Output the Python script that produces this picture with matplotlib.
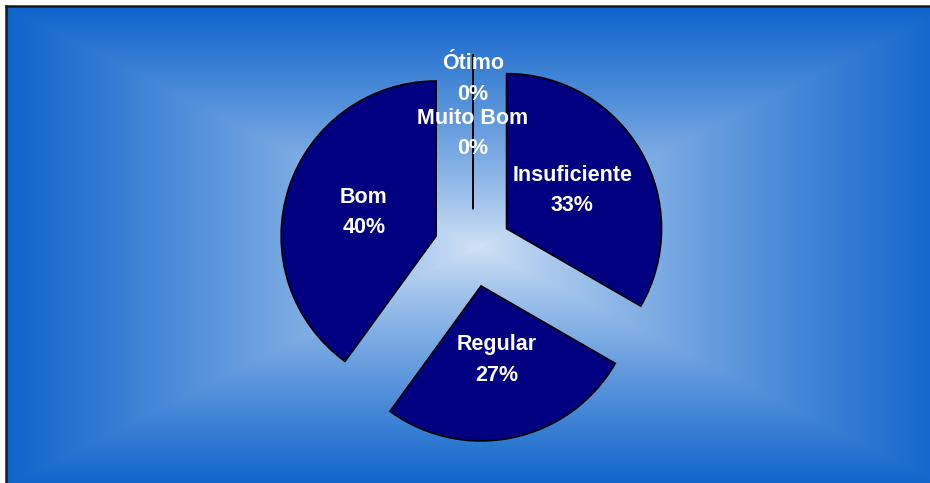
import numpy as np
import matplotlib
matplotlib.use('Agg')
import matplotlib.pyplot as plt

# Survey answers (counts out of 15) in the order the pie draws them
CATEGORIES = ['Insuficiente', 'Regular', 'Bom', 'Muito Bom', 'Ótimo']
COUNTS = [5, 4, 6, 0, 0]

W, H = 930, 483
CX, CY = 473, 248      # pie centre in pixels (from top-left)
R_PX = 155             # pie radius in pixels

fig = plt.figure(figsize=(W / 100, H / 100), dpi=100)
fig.patch.set_facecolor('white')

# Background: rectangular gradient, light centre and blue edges
bg = fig.add_axes([6 / W, -0.01, 1.02 - 6 / W, 1.01 - 6 / H])
bg.set_axis_off()
ny, nx = 240, 470
yy, xx = np.mgrid[0:ny, 0:nx]
t = np.maximum(np.abs(xx - (nx - 1) / 2) / ((nx - 1) / 2),
               np.abs(yy - (ny - 1) / 2) / ((ny - 1) / 2))
t = t ** 0.85
edge = np.array([15, 100, 203]) / 255
centre = np.array([210, 227, 246]) / 255
img = centre[None, None, :] * (1 - t[..., None]) + edge[None, None, :] * t[..., None]
bg.imshow(img, aspect='auto', interpolation='bilinear', extent=[0, 1, 0, 1])
bg.set_xlim(0, 1)
bg.set_ylim(0, 1)

# frame lines (top and left)
fig.add_artist(plt.Line2D([6 / W, 1.01], [1 - 6 / H, 1 - 6 / H], color='#1a1a1a', lw=1.8))
fig.add_artist(plt.Line2D([6 / W, 6 / W], [-0.01, 1 - 6 / H], color='#1a1a1a', lw=1.8))

# Pie
ax = fig.add_axes([0, 0, 1, 1])
ax.set_axis_off()
total = sum(COUNTS)
labels = [f'{c}\n{round(100 * v / total):.0f}%' for c, v in zip(CATEGORIES, COUNTS)]
wedges, texts = ax.pie(COUNTS, labels=labels, startangle=90, counterclock=False,
                       explode=[0.25] * len(COUNTS), labeldistance=0.49,
                       colors=['#000080'] * len(COUNTS),
                       wedgeprops=dict(edgecolor='black', linewidth=1.2),
                       textprops=dict(color='white', fontsize=15.5, fontweight='bold',
                                      family='Liberation Sans', linespacing=1.6))
for txt in texts:
    txt.set_ha('center')
    txt.set_va('center')
# the two empty slices share one spot, lift the last label above the other
x, y = texts[-1].get_position()
texts[-1].set_position((x, y + 0.35))

ax.set_aspect('auto')
ax.set_xlim(-CX / R_PX, (W - CX) / R_PX)
ax.set_ylim(-(H - CY) / R_PX, CY / R_PX)

fig.savefig('out.png', dpi=100)
